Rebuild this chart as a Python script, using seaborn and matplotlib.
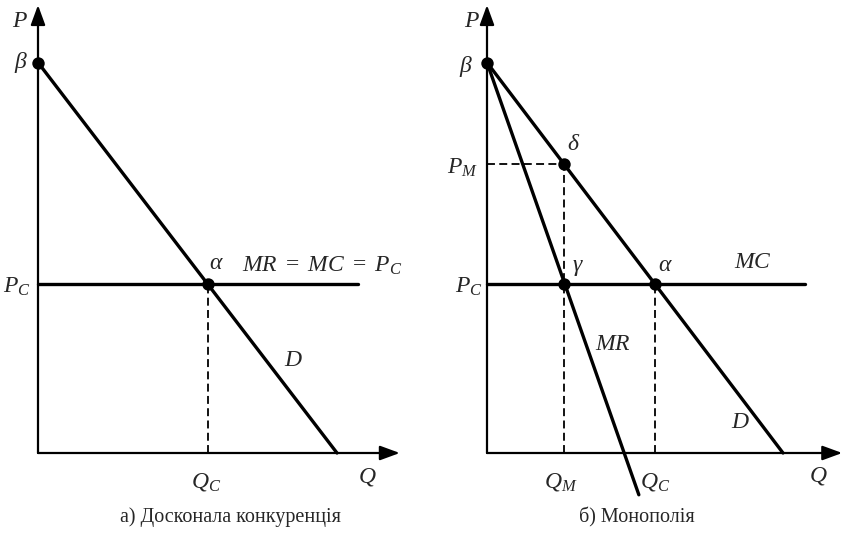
import matplotlib
matplotlib.use("Agg")
import matplotlib.pyplot as plt
import seaborn as sns

sns.set_theme(style="white")
plt.rcParams["font.family"] = ["Liberation Serif", "DejaVu Serif"]
plt.rcParams["mathtext.fontset"] = "custom"
plt.rcParams["mathtext.it"] = "Liberation Serif:italic"
plt.rcParams["mathtext.rm"] = "Liberation Serif"
plt.rcParams["mathtext.cal"] = "Liberation Serif:italic"

# ---- data (model units) ----
p_beta = 10.0
# a) perfect competition
demand_q_a = [0, 10.0]
demand_p_a = [10.0, 0]
pc_a = 4.33
qc_a = 5.67
mc_q_a = [0, 10.7]
q_axis_end_a = 12.1
# b) monopoly
demand_q_b = [0, 10.0]
demand_p_b = [10.0, 0]
mr_q_b = [0, 5.13]
mr_p_b = [10.0, -1.07]
pc_b = 4.33
qc_b = 5.67
pm_b = 7.4
qm_b = 2.6
mc_q_b = [0, 10.74]
q_axis_end_b = 12.0
p_axis_end = 11.47

captions = ["а) Досконала конкуренція", "б) Монополія"]

W, H = 848, 537
fig = plt.figure(figsize=(W / 100, H / 100), dpi=100)

sy = 39.05  # px per P unit
y0 = 453    # px of P = 0


def make_ax(px_left, px_right, x0, sx):
    ax = fig.add_axes([px_left / W, 0, (px_right - px_left) / W, 1])
    ax.set_xlim((px_left - x0) / sx, (px_right - x0) / sx)
    ax.set_ylim((y0 - H) / sy, y0 / sy)
    ax.axis("off")
    return ax


def axes_arrows(ax, q_end):
    arrow = dict(arrowstyle="-|>,head_length=0.6,head_width=0.22",
                 color="black", lw=1.6, mutation_scale=20, shrinkA=0, shrinkB=0)
    ax.annotate("", xy=(q_end, 0), xytext=(0, 0), arrowprops=arrow)
    ax.annotate("", xy=(0, p_axis_end), xytext=(0, 0), arrowprops=arrow)


lw = 2.4
dash = dict(color="black", lw=1.3, ls=(0, (4.4, 2.4)))
fs = 17
it = dict(fontsize=fs, style="italic", ha="center", va="center")

# ---------- panel a ----------
ax = make_ax(0, 424, 38, 29.9)
axes_arrows(ax, q_axis_end_a)
ax.plot([qc_a, qc_a], [0, pc_a], **dash)
sns.lineplot(x=demand_q_a, y=demand_p_a, ax=ax, color="black", lw=lw)
sns.lineplot(x=mc_q_a, y=[pc_a, pc_a], ax=ax, color="black", lw=lw)
sns.scatterplot(x=[0, qc_a], y=[p_beta, pc_a], ax=ax, color="black",
                s=80, linewidth=0, zorder=5)
ax.text(-0.63, 11.06, "P", **it)
ax.text(-0.6, 10.0, "β", **it)
ax.text(-0.7, 4.25, "$P_C$", **it)
ax.text(5.94, 4.84, "α", **it)
ax.text(6.82, 4.79, "$MR\\ =\\ MC\\ =\\ P_C$", fontsize=fs, ha="left", va="center")
ax.text(8.53, 2.38, "D", **it)
ax.text(5.62, -0.74, "$Q_C$", **it)
ax.text(11.0, -0.62, "Q", **it)

# ---------- panel b ----------
ax = make_ax(424, 848, 487, 29.6)
axes_arrows(ax, q_axis_end_b)
ax.plot([0, qm_b], [pm_b, pm_b], **dash)
ax.plot([qm_b, qm_b], [0, pm_b], **dash)
ax.plot([qc_b, qc_b], [0, pc_b], **dash)
sns.lineplot(x=demand_q_b, y=demand_p_b, ax=ax, color="black", lw=lw)
sns.lineplot(x=mr_q_b, y=mr_p_b, ax=ax, color="black", lw=lw)
sns.lineplot(x=mc_q_b, y=[pc_b, pc_b], ax=ax, color="black", lw=lw)
sns.scatterplot(x=[0, qm_b, qm_b, qc_b], y=[p_beta, pm_b, pc_b, pc_b], ax=ax,
                color="black", s=80, linewidth=0, zorder=5)
ax.text(-0.54, 11.06, "P", **it)
ax.text(-0.74, 9.9, "β", **it)
ax.text(2.9, 7.89, "δ", **it)
ax.text(-0.81, 7.3, "$P_M$", **it)
ax.text(-0.6, 4.25, "$P_C$", **it)
ax.text(3.04, 4.81, "γ", **it)
ax.text(6.0, 4.81, "α", **it)
ax.text(9.0, 4.89, "$MC$", **it)
ax.text(4.26, 2.79, "$MR$", **it)
ax.text(8.55, 0.77, "D", **it)
ax.text(2.5, -0.74, "$Q_M$", **it)
ax.text(5.68, -0.74, "$Q_C$", **it)
ax.text(11.2, -0.6, "Q", **it)

fig.text(231 / W, 1 - 517 / H, captions[0], fontsize=14.5, ha="center", va="center")
fig.text(637 / W, 1 - 517 / H, captions[1], fontsize=14.5, ha="center", va="center")

fig.savefig("out.png", dpi=100)
